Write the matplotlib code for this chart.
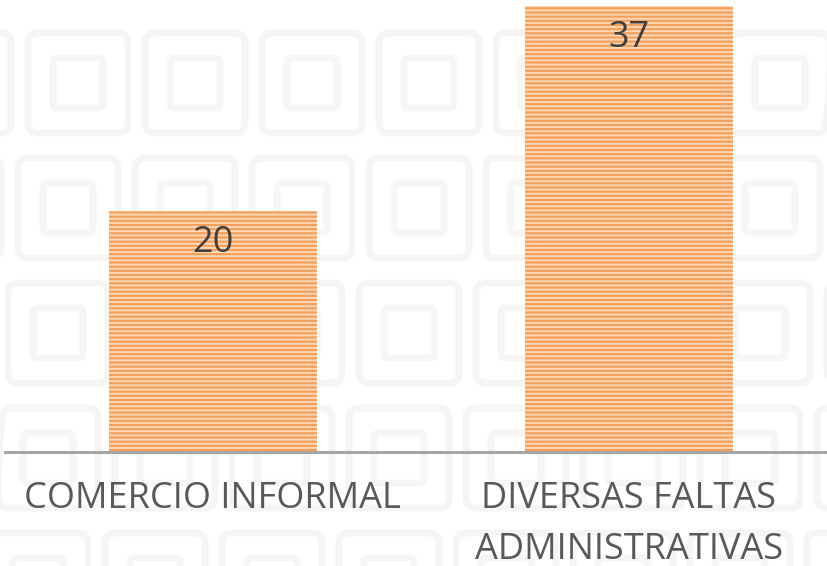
import matplotlib
matplotlib.use("Agg")
import matplotlib.pyplot as plt
from matplotlib.patches import FancyBboxPatch

plt.rcParams['font.family'] = ['Open Sans', 'DejaVu Sans']
plt.rcParams['hatch.linewidth'] = 1.4

# datos del gráfico
categorias = ["COMERCIO INFORMAL", "DIVERSAS FALTAS\nADMINISTRATIVAS"]
valores = [20, 37]

fig = plt.figure(figsize=(8.28, 5.66), dpi=100)

# fondo con mosaico tenue de logotipos
bg = fig.add_axes([0, 0, 1, 1], zorder=0)
bg.set_xlim(0, 828)
bg.set_ylim(566, 0)
bg.axis('off')
for fila in range(5):
    y0 = 33 + fila * 125
    for col in range(-1, 8):
        x0 = 28 + col * 117 - fila * 10
        caja = FancyBboxPatch((x0, y0), 100, 100, boxstyle="round,pad=0,rounding_size=10",
                              facecolor='none', edgecolor='#f5f5f5', linewidth=5)
        bg.add_patch(caja)
        interior = FancyBboxPatch((x0 + 25, y0 + 25), 50, 50, boxstyle="round,pad=0,rounding_size=5",
                                  facecolor='none', edgecolor='#f6f6f6', linewidth=5)
        bg.add_patch(interior)

ax = fig.add_axes([4.5 / 828, (566 - 452) / 566, 1 - 4.5 / 828, 452 / 566], zorder=1)
ax.patch.set_alpha(0)

x = range(len(categorias))
barras = ax.bar(x, valores, width=0.5, color='#f5a05a', hatch='----',
                edgecolor='#fdd9b8', linewidth=0)

for xi, v in zip(x, valores):
    ax.annotate(str(v), (xi, v), xytext=(0, -23), textcoords='offset points',
                ha='center', va='center', fontsize=26, color='#404040')

ax.set_xlim(-0.5, 1.478)
ax.set_ylim(0, 37.5)
ax.set_xticks(list(x))
ax.set_xticklabels(categorias, fontsize=26, color='#595959', linespacing=1.55)
ax.tick_params(axis='x', length=0, pad=21)
ax.set_yticks([])
for lado in ['top', 'right', 'left']:
    ax.spines[lado].set_visible(False)
ax.spines['bottom'].set_color('#a6a6a6')
ax.spines['bottom'].set_linewidth(2.2)

fig.savefig("out.png", dpi=100)
